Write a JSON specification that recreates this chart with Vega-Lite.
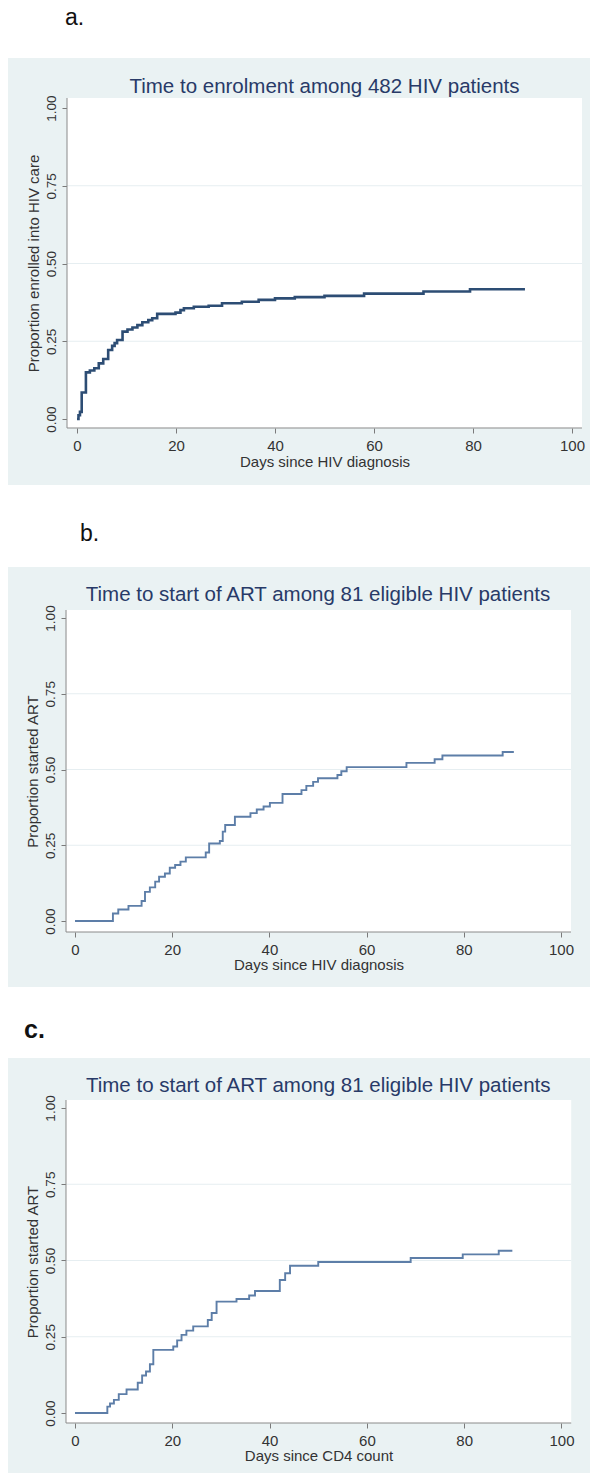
{
  "$schema": "https://vega.github.io/schema/vega-lite/v6.json",
  "background": "white",
  "padding": {"left": 8, "top": 7, "right": 0, "bottom": 0},
  "config": {
    "view": {"stroke": null},
    "font": "Liberation Sans",
    "axis": {"domain": false, "grid": false, "tickSize": 5, "tickColor": "#7a7a7a", "labelColor": "#333333", "labelFont": "Liberation Sans", "labelFontSize": 15, "titleFont": "Liberation Sans", "titleFontSize": 15, "titleFontWeight": "normal", "titleColor": "#333333", "labelPadding": 5, "titlePadding": 0},
    "axisY": {"labelAngle": -90, "labelFontSize": 13.5, "labelPadding": 4, "titlePadding": 3}
  },
  "bounds": "full",
  "spacing": 31,
  "vconcat": [
    {
      "bounds": "flush",
      "spacing": 82,
      "vconcat": [
        {
          "width": 582, "height": 427,
          "view": {"fill": "#EAF2F3", "stroke": null},
          "title": {"text": "a.", "anchor": "start", "frame": "group", "orient": "top", "offset": 10, "dx": 57, "baseline": "alphabetic", "fontSize": 23, "fontWeight": "normal", "color": "#111111", "font": "Liberation Sans"},
          "resolve": {"axis": {"x": "independent", "y": "independent"}},
          "layer": [
            {"data": {"values": [{}]}, "mark": {"type": "rect", "color": "white"},
             "encoding": {"x": {"datum": -2.02, "type": "quantitative", "scale": {"domain": [-13.94, 103.64], "nice": false, "zero": false}, "axis": null}, "x2": {"datum": 102.02},
                          "y": {"datum": -0.0289, "type": "quantitative", "scale": {"domain": [-0.2122, 1.1608], "nice": false, "zero": false}, "axis": null}, "y2": {"datum": 1.0322}}},
            {"data": {"values": [{"g": 0.25}, {"g": 0.5}, {"g": 0.75}]}, "mark": {"type": "rule", "color": "#E6EEF1", "strokeWidth": 1},
             "encoding": {"y": {"field": "g", "type": "quantitative", "scale": {"domain": [-0.2122, 1.1608], "nice": false, "zero": false}, "axis": null},
                          "x": {"datum": -2.02, "type": "quantitative", "scale": {"domain": [-13.94, 103.64], "nice": false, "zero": false}, "axis": null}, "x2": {"datum": 102.02}}},
            {"data": {"values": [{}]}, "mark": {"type": "rule", "color": "#8a8a8a", "strokeWidth": 1},
             "encoding": {"y": {"datum": -0.0289, "type": "quantitative", "scale": {"domain": [-0.2122, 1.1608], "nice": false, "zero": false}, "axis": null},
                          "x": {"datum": -2.02, "type": "quantitative", "scale": {"domain": [-13.94, 103.64], "nice": false, "zero": false}, "axis": null}, "x2": {"datum": 102.02}}},
            {"data": {"values": [{}]}, "mark": {"type": "rule", "color": "#8a8a8a", "strokeWidth": 1},
             "encoding": {"x": {"datum": -2.02, "type": "quantitative", "scale": {"domain": [-13.94, 103.64], "nice": false, "zero": false}, "axis": null},
                          "y": {"datum": -0.0289, "type": "quantitative", "scale": {"domain": [-0.2122, 1.1608], "nice": false, "zero": false}, "axis": null}, "y2": {"datum": 1.0322}}},
            {"data": {"values": [
              {"d": 0, "p": 0}, {"d": 0.3, "p": 0.012}, {"d": 0.6, "p": 0.023}, {"d": 0.95, "p": 0.085}, {"d": 1.8, "p": 0.15}, {"d": 2.6, "p": 0.156}, {"d": 3.5, "p": 0.163}, {"d": 4.4, "p": 0.179}, {"d": 5.3, "p": 0.193}, {"d": 6.3, "p": 0.222}, {"d": 7.1, "p": 0.235}, {"d": 7.6, "p": 0.244}, {"d": 8.1, "p": 0.254}, {"d": 9.2, "p": 0.281}, {"d": 10.2, "p": 0.288}, {"d": 11.2, "p": 0.294}, {"d": 12.2, "p": 0.302}, {"d": 13.2, "p": 0.311}, {"d": 14.4, "p": 0.318}, {"d": 15.2, "p": 0.324}, {"d": 16.2, "p": 0.338}, {"d": 19.9, "p": 0.342}, {"d": 20.9, "p": 0.35}, {"d": 21.6, "p": 0.356}, {"d": 23.6, "p": 0.361}, {"d": 26.6, "p": 0.364}, {"d": 29.3, "p": 0.372}, {"d": 33.3, "p": 0.377}, {"d": 36.7, "p": 0.383}, {"d": 40, "p": 0.388}, {"d": 44, "p": 0.392}, {"d": 50, "p": 0.396}, {"d": 58, "p": 0.403}, {"d": 70, "p": 0.41}, {"d": 79.4, "p": 0.417}, {"d": 90.5, "p": 0.417}
            ]},
             "mark": {"type": "line", "interpolate": "step-after", "color": "#2d4d74", "strokeWidth": 2.6},
             "encoding": {
               "x": {"field": "d", "type": "quantitative", "scale": {"domain": [-13.94, 103.64], "nice": false, "zero": false},
                     "axis": {"values": [0, 20, 40, 60, 80, 100], "title": "Days since HIV diagnosis", "offset": -57, "titleX": 316.5, "titlePadding": 1}},
               "y": {"field": "p", "type": "quantitative", "scale": {"domain": [-0.2122, 1.1608], "nice": false, "zero": false},
                     "axis": {"values": [0, 0.25, 0.5, 0.75, 1], "format": ".2f", "title": "Proportion enrolled into HIV care", "offset": -59, "titleY": 205}}
             }},
            {"data": {"values": [{"t": "Time to enrolment among 482 HIV patients"}]},
             "mark": {"type": "text", "fontSize": 20.5, "color": "#283a68", "baseline": "alphabetic", "align": "center", "font": "Liberation Sans"},
             "encoding": {"x": {"datum": 50, "type": "quantitative", "scale": {"domain": [-13.94, 103.64], "nice": false, "zero": false}, "axis": null},
                          "y": {"datum": 1.0482, "type": "quantitative", "scale": {"domain": [-0.2122, 1.1608], "nice": false, "zero": false}, "axis": null},
                          "text": {"field": "t"}}}
          ]
        },
        {
          "width": 582, "height": 420,
          "view": {"fill": "#EAF2F3", "stroke": null},
          "title": {"text": "b.", "anchor": "start", "frame": "group", "orient": "top", "offset": 3, "dx": 72, "baseline": "alphabetic", "fontSize": 23, "fontWeight": "normal", "color": "#111111", "font": "Liberation Sans"},
          "resolve": {"axis": {"x": "independent", "y": "independent"}},
          "layer": [
            {"data": {"values": [{}]}, "mark": {"type": "rect", "color": "white"},
             "encoding": {"x": {"datum": -1.85, "type": "quantitative", "scale": {"domain": [-13.79, 105.97], "nice": false, "zero": false}, "axis": null}, "x2": {"datum": 102.06},
                          "y": {"datum": -0.0363, "type": "quantitative", "scale": {"domain": [-0.2178, 1.1683], "nice": false, "zero": false}, "axis": null}, "y2": {"datum": 1.0264}}},
            {"data": {"values": [{"g": 0.25}, {"g": 0.5}, {"g": 0.75}]}, "mark": {"type": "rule", "color": "#E6EEF1", "strokeWidth": 1},
             "encoding": {"y": {"field": "g", "type": "quantitative", "scale": {"domain": [-0.2178, 1.1683], "nice": false, "zero": false}, "axis": null},
                          "x": {"datum": -1.85, "type": "quantitative", "scale": {"domain": [-13.79, 105.97], "nice": false, "zero": false}, "axis": null}, "x2": {"datum": 102.06}}},
            {"data": {"values": [{}]}, "mark": {"type": "rule", "color": "#8a8a8a", "strokeWidth": 1},
             "encoding": {"y": {"datum": -0.0363, "type": "quantitative", "scale": {"domain": [-0.2178, 1.1683], "nice": false, "zero": false}, "axis": null},
                          "x": {"datum": -1.85, "type": "quantitative", "scale": {"domain": [-13.79, 105.97], "nice": false, "zero": false}, "axis": null}, "x2": {"datum": 102.06}}},
            {"data": {"values": [{}]}, "mark": {"type": "rule", "color": "#8a8a8a", "strokeWidth": 1},
             "encoding": {"x": {"datum": -1.85, "type": "quantitative", "scale": {"domain": [-13.79, 105.97], "nice": false, "zero": false}, "axis": null},
                          "y": {"datum": -0.0363, "type": "quantitative", "scale": {"domain": [-0.2178, 1.1683], "nice": false, "zero": false}, "axis": null}, "y2": {"datum": 1.0264}}},
            {"data": {"values": [
              {"d": 0, "p": 0}, {"d": 7.8, "p": 0.025}, {"d": 8.9, "p": 0.038}, {"d": 11.0, "p": 0.05}, {"d": 13.7, "p": 0.066}, {"d": 14.4, "p": 0.096}, {"d": 15.4, "p": 0.111}, {"d": 16.5, "p": 0.13}, {"d": 17.3, "p": 0.146}, {"d": 18.5, "p": 0.157}, {"d": 19.5, "p": 0.176}, {"d": 20.6, "p": 0.185}, {"d": 21.7, "p": 0.196}, {"d": 22.8, "p": 0.21}, {"d": 26.9, "p": 0.226}, {"d": 27.6, "p": 0.256}, {"d": 29.8, "p": 0.264}, {"d": 30.4, "p": 0.295}, {"d": 30.9, "p": 0.317}, {"d": 32.9, "p": 0.344}, {"d": 36.1, "p": 0.356}, {"d": 37.4, "p": 0.368}, {"d": 38.8, "p": 0.378}, {"d": 40.1, "p": 0.39}, {"d": 42.7, "p": 0.419}, {"d": 46.6, "p": 0.432}, {"d": 47.6, "p": 0.446}, {"d": 49.0, "p": 0.459}, {"d": 50.0, "p": 0.471}, {"d": 54.0, "p": 0.482}, {"d": 54.8, "p": 0.494}, {"d": 55.9, "p": 0.508}, {"d": 68.2, "p": 0.522}, {"d": 74.0, "p": 0.534}, {"d": 75.6, "p": 0.546}, {"d": 88.0, "p": 0.558}, {"d": 90.3, "p": 0.558}
            ]},
             "mark": {"type": "line", "interpolate": "step-after", "color": "#5d7ea8", "strokeWidth": 1.9},
             "encoding": {
               "x": {"field": "d", "type": "quantitative", "scale": {"domain": [-13.79, 105.97], "nice": false, "zero": false},
                     "axis": {"values": [0, 20, 40, 60, 80, 100], "title": "Days since HIV diagnosis", "offset": -55, "titleX": 310.5, "titlePadding": 0}},
               "y": {"field": "p", "type": "quantitative", "scale": {"domain": [-0.2178, 1.1683], "nice": false, "zero": false},
                     "axis": {"values": [0, 0.25, 0.5, 0.75, 1], "format": ".2f", "title": "Proportion started ART", "offset": -58, "titleY": 204}}
             }},
            {"data": {"values": [{"t": "Time to start of ART among 81 eligible HIV patients"}]},
             "mark": {"type": "text", "fontSize": 20.5, "color": "#283a68", "baseline": "alphabetic", "align": "center", "font": "Liberation Sans"},
             "encoding": {"x": {"datum": 50, "type": "quantitative", "scale": {"domain": [-13.79, 105.97], "nice": false, "zero": false}, "axis": null},
                          "y": {"datum": 1.0561, "type": "quantitative", "scale": {"domain": [-0.2178, 1.1683], "nice": false, "zero": false}, "axis": null},
                          "text": {"field": "t"}}}
          ]
        }
      ]
    },
    {
      "width": 582, "height": 415,
      "view": {"fill": "#EAF2F3", "stroke": null},
      "title": {"text": "c.", "anchor": "start", "frame": "group", "orient": "top", "offset": -5, "dx": 16, "baseline": "alphabetic", "fontSize": 25, "fontWeight": "bold", "color": "#111111", "font": "Liberation Sans"},
      "resolve": {"axis": {"x": "independent", "y": "independent"}},
      "layer": [
        {"data": {"values": [{}]}, "mark": {"type": "rect", "color": "white"},
         "encoding": {"x": {"datum": -1.85, "type": "quantitative", "scale": {"domain": [-13.77, 105.86], "nice": false, "zero": false}, "axis": null}, "x2": {"datum": 102.0},
                      "y": {"datum": -0.0328, "type": "quantitative", "scale": {"domain": [-0.1967, 1.1639], "nice": false, "zero": false}, "axis": null}, "y2": {"datum": 1.0262}}},
        {"data": {"values": [{"g": 0.25}, {"g": 0.5}, {"g": 0.75}]}, "mark": {"type": "rule", "color": "#E6EEF1", "strokeWidth": 1},
         "encoding": {"y": {"field": "g", "type": "quantitative", "scale": {"domain": [-0.1967, 1.1639], "nice": false, "zero": false}, "axis": null},
                      "x": {"datum": -1.85, "type": "quantitative", "scale": {"domain": [-13.77, 105.86], "nice": false, "zero": false}, "axis": null}, "x2": {"datum": 102.0}}},
        {"data": {"values": [{}]}, "mark": {"type": "rule", "color": "#8a8a8a", "strokeWidth": 1},
         "encoding": {"y": {"datum": -0.0328, "type": "quantitative", "scale": {"domain": [-0.1967, 1.1639], "nice": false, "zero": false}, "axis": null},
                      "x": {"datum": -1.85, "type": "quantitative", "scale": {"domain": [-13.77, 105.86], "nice": false, "zero": false}, "axis": null}, "x2": {"datum": 102.0}}},
        {"data": {"values": [{}]}, "mark": {"type": "rule", "color": "#8a8a8a", "strokeWidth": 1},
         "encoding": {"x": {"datum": -1.85, "type": "quantitative", "scale": {"domain": [-13.77, 105.86], "nice": false, "zero": false}, "axis": null},
                      "y": {"datum": -0.0328, "type": "quantitative", "scale": {"domain": [-0.1967, 1.1639], "nice": false, "zero": false}, "axis": null}, "y2": {"datum": 1.0262}}},
        {"data": {"values": [
          {"d": 0, "p": 0}, {"d": 6.65, "p": 0.021}, {"d": 7.2, "p": 0.031}, {"d": 8.0, "p": 0.043}, {"d": 9.0, "p": 0.062}, {"d": 10.6, "p": 0.077}, {"d": 12.9, "p": 0.099}, {"d": 13.8, "p": 0.123}, {"d": 14.6, "p": 0.136}, {"d": 15.4, "p": 0.16}, {"d": 16.1, "p": 0.207}, {"d": 20.2, "p": 0.218}, {"d": 21.0, "p": 0.238}, {"d": 21.9, "p": 0.256}, {"d": 22.9, "p": 0.27}, {"d": 24.3, "p": 0.284}, {"d": 27.3, "p": 0.305}, {"d": 28.1, "p": 0.328}, {"d": 29.1, "p": 0.365}, {"d": 33.2, "p": 0.374}, {"d": 35.8, "p": 0.385}, {"d": 37.0, "p": 0.4}, {"d": 42.1, "p": 0.436}, {"d": 43.2, "p": 0.458}, {"d": 44.2, "p": 0.483}, {"d": 50.0, "p": 0.495}, {"d": 69.0, "p": 0.508}, {"d": 79.7, "p": 0.52}, {"d": 87.1, "p": 0.532}, {"d": 89.9, "p": 0.532}
        ]},
         "mark": {"type": "line", "interpolate": "step-after", "color": "#5d7ea8", "strokeWidth": 1.9},
         "encoding": {
           "x": {"field": "d", "type": "quantitative", "scale": {"domain": [-13.77, 105.86], "nice": false, "zero": false},
                 "axis": {"values": [0, 20, 40, 60, 80, 100], "title": "Days since CD4 count", "offset": -50, "titleX": 310.5, "titlePadding": 0}},
           "y": {"field": "p", "type": "quantitative", "scale": {"domain": [-0.1967, 1.1639], "nice": false, "zero": false},
                 "axis": {"values": [0, 0.25, 0.5, 0.75, 1], "format": ".2f", "title": "Proportion started ART", "offset": -58, "titleY": 203.5}}
         }},
        {"data": {"values": [{"t": "Time to start of ART among 81 eligible HIV patients"}]},
         "mark": {"type": "text", "fontSize": 20.5, "color": "#283a68", "baseline": "alphabetic", "align": "center", "font": "Liberation Sans"},
         "encoding": {"x": {"datum": 50, "type": "quantitative", "scale": {"domain": [-13.77, 105.86], "nice": false, "zero": false}, "axis": null},
                      "y": {"datum": 1.0525, "type": "quantitative", "scale": {"domain": [-0.1967, 1.1639], "nice": false, "zero": false}, "axis": null},
                      "text": {"field": "t"}}}
      ]
    }
  ]
}
